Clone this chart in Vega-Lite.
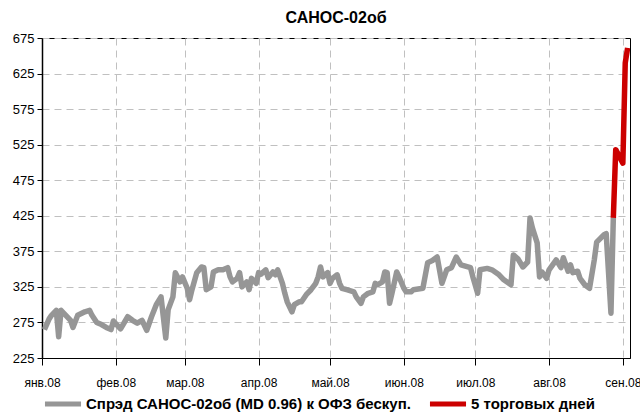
{
  "$schema": "https://vega.github.io/schema/vega-lite/v6.json",
  "width": 588,
  "height": 320,
  "autosize": "none",
  "padding": {"left": 42, "top": 38, "right": 10, "bottom": 56},
  "title": {"text": "САНОС-02об", "fontSize": 16, "fontWeight": "bold", "color": "#000", "offset": 6, "anchor": "middle"},
  "config": {
    "font": "Liberation Sans Narrow, Arial Narrow, Liberation Sans, sans-serif",
    "view": {"stroke": "#000", "strokeWidth": 1},
    "background": "#ffffff"
  },
  "datasets": {
    "spread": [
      {"date": "2008-01-02", "v": 265, "s": "Спрэд САНОС-02об (MD 0.96) к ОФЗ бескуп."},
      {"date": "2008-01-04", "v": 280, "s": "Спрэд САНОС-02об (MD 0.96) к ОФЗ бескуп."},
      {"date": "2008-01-05", "v": 285, "s": "Спрэд САНОС-02об (MD 0.96) к ОФЗ бескуп."},
      {"date": "2008-01-07", "v": 292, "s": "Спрэд САНОС-02об (MD 0.96) к ОФЗ бескуп."},
      {"date": "2008-01-08", "v": 255, "s": "Спрэд САНОС-02об (MD 0.96) к ОФЗ бескуп."},
      {"date": "2008-01-09", "v": 292, "s": "Спрэд САНОС-02об (MD 0.96) к ОФЗ бескуп."},
      {"date": "2008-01-11", "v": 285, "s": "Спрэд САНОС-02об (MD 0.96) к ОФЗ бескуп."},
      {"date": "2008-01-13", "v": 278, "s": "Спрэд САНОС-02об (MD 0.96) к ОФЗ бескуп."},
      {"date": "2008-01-14", "v": 268, "s": "Спрэд САНОС-02об (MD 0.96) к ОФЗ бескуп."},
      {"date": "2008-01-16", "v": 285, "s": "Спрэд САНОС-02об (MD 0.96) к ОФЗ бескуп."},
      {"date": "2008-01-19", "v": 290, "s": "Спрэд САНОС-02об (MD 0.96) к ОФЗ бескуп."},
      {"date": "2008-01-21", "v": 292, "s": "Спрэд САНОС-02об (MD 0.96) к ОФЗ бескуп."},
      {"date": "2008-01-22", "v": 285, "s": "Спрэд САНОС-02об (MD 0.96) к ОФЗ бескуп."},
      {"date": "2008-01-24", "v": 275, "s": "Спрэд САНОС-02об (MD 0.96) к ОФЗ бескуп."},
      {"date": "2008-01-26", "v": 272, "s": "Спрэд САНОС-02об (MD 0.96) к ОФЗ бескуп."},
      {"date": "2008-01-28", "v": 268, "s": "Спрэд САНОС-02об (MD 0.96) к ОФЗ бескуп."},
      {"date": "2008-01-30", "v": 265, "s": "Спрэд САНОС-02об (MD 0.96) к ОФЗ бескуп."},
      {"date": "2008-01-31", "v": 277, "s": "Спрэд САНОС-02об (MD 0.96) к ОФЗ бескуп."},
      {"date": "2008-02-03", "v": 266, "s": "Спрэд САНОС-02об (MD 0.96) к ОФЗ бескуп."},
      {"date": "2008-02-06", "v": 283, "s": "Спрэд САНОС-02об (MD 0.96) к ОФЗ бескуп."},
      {"date": "2008-02-08", "v": 278, "s": "Спрэд САНОС-02об (MD 0.96) к ОФЗ бескуп."},
      {"date": "2008-02-10", "v": 274, "s": "Спрэд САНОС-02об (MD 0.96) к ОФЗ бескуп."},
      {"date": "2008-02-12", "v": 278, "s": "Спрэд САНОС-02об (MD 0.96) к ОФЗ бескуп."},
      {"date": "2008-02-14", "v": 264, "s": "Спрэд САНОС-02об (MD 0.96) к ОФЗ бескуп."},
      {"date": "2008-02-16", "v": 283, "s": "Спрэд САНОС-02об (MD 0.96) к ОФЗ бескуп."},
      {"date": "2008-02-18", "v": 300, "s": "Спрэд САНОС-02об (MD 0.96) к ОФЗ бескуп."},
      {"date": "2008-02-20", "v": 311, "s": "Спрэд САНОС-02об (MD 0.96) к ОФЗ бескуп."},
      {"date": "2008-02-22", "v": 253, "s": "Спрэд САНОС-02об (MD 0.96) к ОФЗ бескуп."},
      {"date": "2008-02-23", "v": 293, "s": "Спрэд САНОС-02об (MD 0.96) к ОФЗ бескуп."},
      {"date": "2008-02-25", "v": 311, "s": "Спрэд САНОС-02об (MD 0.96) к ОФЗ бескуп."},
      {"date": "2008-02-26", "v": 345, "s": "Спрэд САНОС-02об (MD 0.96) к ОФЗ бескуп."},
      {"date": "2008-02-28", "v": 332, "s": "Спрэд САНОС-02об (MD 0.96) к ОФЗ бескуп."},
      {"date": "2008-02-29", "v": 339, "s": "Спрэд САНОС-02об (MD 0.96) к ОФЗ бескуп."},
      {"date": "2008-03-02", "v": 323, "s": "Спрэд САНОС-02об (MD 0.96) к ОФЗ бескуп."},
      {"date": "2008-03-03", "v": 307, "s": "Спрэд САНОС-02об (MD 0.96) к ОФЗ бескуп."},
      {"date": "2008-03-04", "v": 321, "s": "Спрэд САНОС-02об (MD 0.96) к ОФЗ бескуп."},
      {"date": "2008-03-06", "v": 345, "s": "Спрэд САНОС-02об (MD 0.96) к ОФЗ бескуп."},
      {"date": "2008-03-08", "v": 353, "s": "Спрэд САНОС-02об (MD 0.96) к ОФЗ бескуп."},
      {"date": "2008-03-09", "v": 352, "s": "Спрэд САНОС-02об (MD 0.96) к ОФЗ бескуп."},
      {"date": "2008-03-10", "v": 321, "s": "Спрэд САНОС-02об (MD 0.96) к ОФЗ бескуп."},
      {"date": "2008-03-12", "v": 325, "s": "Спрэд САНОС-02об (MD 0.96) к ОФЗ бескуп."},
      {"date": "2008-03-13", "v": 346, "s": "Спрэд САНОС-02об (MD 0.96) к ОФЗ бескуп."},
      {"date": "2008-03-15", "v": 349, "s": "Спрэд САНОС-02об (MD 0.96) к ОФЗ бескуп."},
      {"date": "2008-03-17", "v": 349, "s": "Спрэд САНОС-02об (MD 0.96) к ОФЗ бескуп."},
      {"date": "2008-03-19", "v": 352, "s": "Спрэд САНОС-02об (MD 0.96) к ОФЗ бескуп."},
      {"date": "2008-03-20", "v": 339, "s": "Спрэд САНОС-02об (MD 0.96) к ОФЗ бескуп."},
      {"date": "2008-03-21", "v": 332, "s": "Спрэд САНОС-02об (MD 0.96) к ОФЗ бескуп."},
      {"date": "2008-03-23", "v": 337, "s": "Спрэд САНОС-02об (MD 0.96) к ОФЗ бескуп."},
      {"date": "2008-03-24", "v": 345, "s": "Спрэд САНОС-02об (MD 0.96) к ОФЗ бескуп."},
      {"date": "2008-03-25", "v": 325, "s": "Спрэд САНОС-02об (MD 0.96) к ОФЗ бескуп."},
      {"date": "2008-03-27", "v": 332, "s": "Спрэд САНОС-02об (MD 0.96) к ОФЗ бескуп."},
      {"date": "2008-03-28", "v": 321, "s": "Спрэд САНОС-02об (MD 0.96) к ОФЗ бескуп."},
      {"date": "2008-03-29", "v": 337, "s": "Спрэд САНОС-02об (MD 0.96) к ОФЗ бескуп."},
      {"date": "2008-03-31", "v": 330, "s": "Спрэд САНОС-02об (MD 0.96) к ОФЗ бескуп."},
      {"date": "2008-04-01", "v": 345, "s": "Спрэд САНОС-02об (MD 0.96) к ОФЗ бескуп."},
      {"date": "2008-04-02", "v": 343, "s": "Спрэд САНОС-02об (MD 0.96) к ОФЗ бескуп."},
      {"date": "2008-04-04", "v": 349, "s": "Спрэд САНОС-02об (MD 0.96) к ОФЗ бескуп."},
      {"date": "2008-04-05", "v": 338, "s": "Спрэд САНОС-02об (MD 0.96) к ОФЗ бескуп."},
      {"date": "2008-04-07", "v": 346, "s": "Спрэд САНОС-02об (MD 0.96) к ОФЗ бескуп."},
      {"date": "2008-04-08", "v": 342, "s": "Спрэд САНОС-02об (MD 0.96) к ОФЗ бескуп."},
      {"date": "2008-04-09", "v": 349, "s": "Спрэд САНОС-02об (MD 0.96) к ОФЗ бескуп."},
      {"date": "2008-04-11", "v": 330, "s": "Спрэд САНОС-02об (MD 0.96) к ОФЗ бескуп."},
      {"date": "2008-04-12", "v": 316, "s": "Спрэд САНОС-02об (MD 0.96) к ОФЗ бескуп."},
      {"date": "2008-04-13", "v": 304, "s": "Спрэд САНОС-02об (MD 0.96) к ОФЗ бескуп."},
      {"date": "2008-04-15", "v": 290, "s": "Спрэд САНОС-02об (MD 0.96) к ОФЗ бескуп."},
      {"date": "2008-04-16", "v": 300, "s": "Спрэд САНОС-02об (MD 0.96) к ОФЗ бескуп."},
      {"date": "2008-04-18", "v": 304, "s": "Спрэд САНОС-02об (MD 0.96) к ОФЗ бескуп."},
      {"date": "2008-04-19", "v": 304, "s": "Спрэд САНОС-02об (MD 0.96) к ОФЗ бескуп."},
      {"date": "2008-04-21", "v": 314, "s": "Спрэд САНОС-02об (MD 0.96) к ОФЗ бескуп."},
      {"date": "2008-04-23", "v": 321, "s": "Спрэд САНОС-02об (MD 0.96) к ОФЗ бескуп."},
      {"date": "2008-04-25", "v": 330, "s": "Спрэд САНОС-02об (MD 0.96) к ОФЗ бескуп."},
      {"date": "2008-04-26", "v": 339, "s": "Спрэд САНОС-02об (MD 0.96) к ОФЗ бескуп."},
      {"date": "2008-04-27", "v": 353, "s": "Спрэд САНОС-02об (MD 0.96) к ОФЗ бескуп."},
      {"date": "2008-04-28", "v": 339, "s": "Спрэд САНОС-02об (MD 0.96) к ОФЗ бескуп."},
      {"date": "2008-04-30", "v": 345, "s": "Спрэд САНОС-02об (MD 0.96) к ОФЗ бескуп."},
      {"date": "2008-05-01", "v": 330, "s": "Спрэд САНОС-02об (MD 0.96) к ОФЗ бескуп."},
      {"date": "2008-05-02", "v": 337, "s": "Спрэд САНОС-02об (MD 0.96) к ОФЗ бескуп."},
      {"date": "2008-05-04", "v": 342, "s": "Спрэд САНОС-02об (MD 0.96) к ОФЗ бескуп."},
      {"date": "2008-05-05", "v": 330, "s": "Спрэд САНОС-02об (MD 0.96) к ОФЗ бескуп."},
      {"date": "2008-05-06", "v": 323, "s": "Спрэд САНОС-02об (MD 0.96) к ОФЗ бескуп."},
      {"date": "2008-05-08", "v": 321, "s": "Спрэд САНОС-02об (MD 0.96) к ОФЗ бескуп."},
      {"date": "2008-05-11", "v": 318, "s": "Спрэд САНОС-02об (MD 0.96) к ОФЗ бескуп."},
      {"date": "2008-05-12", "v": 311, "s": "Спрэд САНОС-02об (MD 0.96) к ОФЗ бескуп."},
      {"date": "2008-05-14", "v": 302, "s": "Спрэд САНОС-02об (MD 0.96) к ОФЗ бескуп."},
      {"date": "2008-05-15", "v": 311, "s": "Спрэд САНОС-02об (MD 0.96) к ОФЗ бескуп."},
      {"date": "2008-05-17", "v": 316, "s": "Спрэд САНОС-02об (MD 0.96) к ОФЗ бескуп."},
      {"date": "2008-05-19", "v": 318, "s": "Спрэд САНОС-02об (MD 0.96) к ОФЗ бескуп."},
      {"date": "2008-05-20", "v": 330, "s": "Спрэд САНОС-02об (MD 0.96) к ОФЗ бескуп."},
      {"date": "2008-05-21", "v": 328, "s": "Спрэд САНОС-02об (MD 0.96) к ОФЗ бескуп."},
      {"date": "2008-05-23", "v": 332, "s": "Спрэд САНОС-02об (MD 0.96) к ОФЗ бескуп."},
      {"date": "2008-05-24", "v": 346, "s": "Спрэд САНОС-02об (MD 0.96) к ОФЗ бескуп."},
      {"date": "2008-05-25", "v": 345, "s": "Спрэд САНОС-02об (MD 0.96) к ОФЗ бескуп."},
      {"date": "2008-05-26", "v": 302, "s": "Спрэд САНОС-02об (MD 0.96) к ОФЗ бескуп."},
      {"date": "2008-05-27", "v": 316, "s": "Спрэд САНОС-02об (MD 0.96) к ОФЗ бескуп."},
      {"date": "2008-05-29", "v": 346, "s": "Спрэд САНОС-02об (MD 0.96) к ОФЗ бескуп."},
      {"date": "2008-05-30", "v": 339, "s": "Спрэд САНОС-02об (MD 0.96) к ОФЗ бескуп."},
      {"date": "2008-06-01", "v": 323, "s": "Спрэд САНОС-02об (MD 0.96) к ОФЗ бескуп."},
      {"date": "2008-06-02", "v": 318, "s": "Спрэд САНОС-02об (MD 0.96) к ОФЗ бескуп."},
      {"date": "2008-06-04", "v": 318, "s": "Спрэд САНОС-02об (MD 0.96) к ОФЗ бескуп."},
      {"date": "2008-06-05", "v": 321, "s": "Спрэд САНОС-02об (MD 0.96) к ОФЗ бескуп."},
      {"date": "2008-06-07", "v": 322, "s": "Спрэд САНОС-02об (MD 0.96) к ОФЗ бескуп."},
      {"date": "2008-06-09", "v": 323, "s": "Спрэд САНОС-02об (MD 0.96) к ОФЗ бескуп."},
      {"date": "2008-06-11", "v": 359, "s": "Спрэд САНОС-02об (MD 0.96) к ОФЗ бескуп."},
      {"date": "2008-06-13", "v": 362, "s": "Спрэд САНОС-02об (MD 0.96) к ОФЗ бескуп."},
      {"date": "2008-06-15", "v": 367, "s": "Спрэд САНОС-02об (MD 0.96) к ОФЗ бескуп."},
      {"date": "2008-06-17", "v": 330, "s": "Спрэд САНОС-02об (MD 0.96) к ОФЗ бескуп."},
      {"date": "2008-06-19", "v": 349, "s": "Спрэд САНОС-02об (MD 0.96) к ОФЗ бескуп."},
      {"date": "2008-06-21", "v": 352, "s": "Спрэд САНОС-02об (MD 0.96) к ОФЗ бескуп."},
      {"date": "2008-06-23", "v": 367, "s": "Спрэд САНОС-02об (MD 0.96) к ОФЗ бескуп."},
      {"date": "2008-06-25", "v": 356, "s": "Спрэд САНОС-02об (MD 0.96) к ОФЗ бескуп."},
      {"date": "2008-06-29", "v": 352, "s": "Спрэд САНОС-02об (MD 0.96) к ОФЗ бескуп."},
      {"date": "2008-06-30", "v": 339, "s": "Спрэд САНОС-02об (MD 0.96) к ОФЗ бескуп."},
      {"date": "2008-07-02", "v": 316, "s": "Спрэд САНОС-02об (MD 0.96) к ОФЗ бескуп."},
      {"date": "2008-07-03", "v": 349, "s": "Спрэд САНОС-02об (MD 0.96) к ОФЗ бескуп."},
      {"date": "2008-07-06", "v": 351, "s": "Спрэд САНОС-02об (MD 0.96) к ОФЗ бескуп."},
      {"date": "2008-07-08", "v": 349, "s": "Спрэд САНОС-02об (MD 0.96) к ОФЗ бескуп."},
      {"date": "2008-07-11", "v": 342, "s": "Спрэд САНОС-02об (MD 0.96) к ОФЗ бескуп."},
      {"date": "2008-07-13", "v": 335, "s": "Спрэд САНОС-02об (MD 0.96) к ОФЗ бескуп."},
      {"date": "2008-07-16", "v": 328, "s": "Спрэд САНОС-02об (MD 0.96) к ОФЗ бескуп."},
      {"date": "2008-07-17", "v": 370, "s": "Спрэд САНОС-02об (MD 0.96) к ОФЗ бескуп."},
      {"date": "2008-07-19", "v": 364, "s": "Спрэд САНОС-02об (MD 0.96) к ОФЗ бескуп."},
      {"date": "2008-07-21", "v": 353, "s": "Спрэд САНОС-02об (MD 0.96) к ОФЗ бескуп."},
      {"date": "2008-07-23", "v": 360, "s": "Спрэд САНОС-02об (MD 0.96) к ОФЗ бескуп."},
      {"date": "2008-07-24", "v": 422, "s": "Спрэд САНОС-02об (MD 0.96) к ОФЗ бескуп."},
      {"date": "2008-07-25", "v": 408, "s": "Спрэд САНОС-02об (MD 0.96) к ОФЗ бескуп."},
      {"date": "2008-07-27", "v": 387, "s": "Спрэд САНОС-02об (MD 0.96) к ОФЗ бескуп."},
      {"date": "2008-07-28", "v": 339, "s": "Спрэд САНОС-02об (MD 0.96) к ОФЗ бескуп."},
      {"date": "2008-07-29", "v": 346, "s": "Спрэд САНОС-02об (MD 0.96) к ОФЗ бескуп."},
      {"date": "2008-07-31", "v": 337, "s": "Спрэд САНОС-02об (MD 0.96) к ОФЗ бескуп."},
      {"date": "2008-08-01", "v": 349, "s": "Спрэд САНОС-02об (MD 0.96) к ОФЗ бескуп."},
      {"date": "2008-08-04", "v": 363, "s": "Спрэд САНОС-02об (MD 0.96) к ОФЗ бескуп."},
      {"date": "2008-08-06", "v": 352, "s": "Спрэд САНОС-02об (MD 0.96) к ОФЗ бескуп."},
      {"date": "2008-08-07", "v": 366, "s": "Спрэд САНОС-02об (MD 0.96) к ОФЗ бескуп."},
      {"date": "2008-08-09", "v": 347, "s": "Спрэд САНОС-02об (MD 0.96) к ОФЗ бескуп."},
      {"date": "2008-08-10", "v": 356, "s": "Спрэд САНОС-02об (MD 0.96) к ОФЗ бескуп."},
      {"date": "2008-08-11", "v": 345, "s": "Спрэд САНОС-02об (MD 0.96) к ОФЗ бескуп."},
      {"date": "2008-08-13", "v": 347, "s": "Спрэд САНОС-02об (MD 0.96) к ОФЗ бескуп."},
      {"date": "2008-08-14", "v": 337, "s": "Спрэд САНОС-02об (MD 0.96) к ОФЗ бескуп."},
      {"date": "2008-08-16", "v": 328, "s": "Спрэд САНОС-02об (MD 0.96) к ОФЗ бескуп."},
      {"date": "2008-08-18", "v": 323, "s": "Спрэд САНОС-02об (MD 0.96) к ОФЗ бескуп."},
      {"date": "2008-08-20", "v": 363, "s": "Спрэд САНОС-02об (MD 0.96) к ОФЗ бескуп."},
      {"date": "2008-08-21", "v": 388, "s": "Спрэд САНОС-02об (MD 0.96) к ОФЗ бескуп."},
      {"date": "2008-08-24", "v": 398, "s": "Спрэд САНОС-02об (MD 0.96) к ОФЗ бескуп."},
      {"date": "2008-08-25", "v": 400, "s": "Спрэд САНОС-02об (MD 0.96) к ОФЗ бескуп."},
      {"date": "2008-08-27", "v": 288, "s": "Спрэд САНОС-02об (MD 0.96) к ОФЗ бескуп."},
      {"date": "2008-08-28", "v": 422, "s": "Спрэд САНОС-02об (MD 0.96) к ОФЗ бескуп."},
      {"date": "2008-08-28", "v": 422, "s": "5 торговых дней"},
      {"date": "2008-08-29", "v": 518, "s": "5 торговых дней"},
      {"date": "2008-09-01", "v": 499, "s": "5 торговых дней"},
      {"date": "2008-09-02", "v": 640, "s": "5 торговых дней"},
      {"date": "2008-09-03", "v": 661, "s": "5 торговых дней"}
    ]
  },
  "data": {"name": "spread"},
  "mark": {"type": "line", "strokeWidth": 5.5, "strokeJoin": "round", "strokeCap": "butt", "clip": true},
  "encoding": {
    "x": {
      "field": "date",
      "type": "temporal",
      "scale": {"type": "utc", "domain": [{"year": 2008, "month": 1, "date": 1, "utc": true}, {"year": 2008, "month": 9, "date": 4, "utc": true}], "nice": false},
      "axis": {
        "title": null,
        "tickCount": {"interval": "month", "step": 1},
        "labelExpr": "['янв','фев','мар','апр','май','июн','июл','авг','сен','окт','ноя','дек'][utcmonth(datum.value)] + '.08'",
        "labelFontSize": 12,
        "labelColor": "#000",
        "labelPadding": 12,
        "tickSize": 7,
        "tickColor": "#000",
        "domainColor": "#000",
        "grid": true,
        "gridColor": "#c0c0c0",
        "gridDash": [7, 5],
        "gridWidth": 1,
        "labelFlush": false,
        "labelOverlap": false
      }
    },
    "y": {
      "field": "v",
      "type": "quantitative",
      "scale": {"domain": [225, 675], "nice": false, "zero": false},
      "axis": {
        "title": null,
        "values": [225, 275, 325, 375, 425, 475, 525, 575, 625, 675],
        "labelFontSize": 13,
        "labelColor": "#000",
        "labelPadding": 3,
        "tickSize": 5,
        "tickColor": "#000",
        "domainColor": "#000",
        "domainWidth": 1.5,
        "grid": true,
        "gridColor": "#c0c0c0",
        "gridDash": [7, 5],
        "gridWidth": 1
      }
    },
    "color": {
      "field": "s",
      "type": "nominal",
      "scale": {"domain": ["Спрэд САНОС-02об (MD 0.96) к ОФЗ бескуп.", "5 торговых дней"], "range": ["#969696", "#cc0000"]},
      "legend": {
        "title": null,
        "orient": "bottom",
        "direction": "horizontal",
        "symbolType": "stroke",
        "symbolSize": 1300,
        "symbolStrokeWidth": 5,
        "labelFontSize": 15,
        "labelFontWeight": "bold",
        "labelColor": "#000",
        "labelLimit": 500,
        "labelOffset": 2,
        "columnPadding": 8,
        "offset": -5,
        "padding": 0
      }
    }
  }
}
